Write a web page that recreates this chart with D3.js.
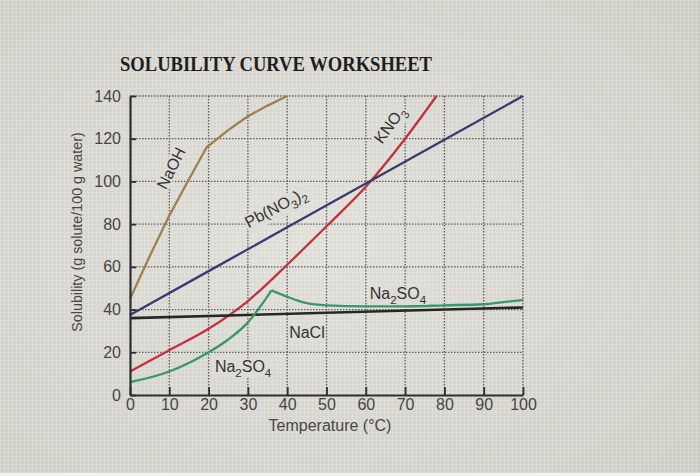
<!DOCTYPE html>
<html>
<head>
<meta charset="utf-8">
<script src="https://cdn.jsdelivr.net/npm/d3@7"></script>
<style>
  body { margin: 0; background: #d4d2cc; }
  svg { display: block; }
</style>
</head>
<body>
<div class="canva"></div>
<script>
// values (temperature in °C, solubility in g / 100 g water)
const naohTemp = [0, 5, 10, 15, 19.5, 25, 30, 35, 40];
const naohSol = [45, 65, 84, 101, 116, 124, 130.5, 135.5, 140];

const kno3Temp = [0, 10, 20, 30, 40, 50, 60, 70, 78];
const kno3Sol = [11, 21, 31, 44, 61, 79, 97.5, 120, 140];

const pbTemp = [0, 20, 40, 60, 80, 100];
const pbSol = [37.5, 58, 78.5, 99, 119.5, 140];

const naclTemp = [0, 50, 100];
const naclSol = [36, 38.5, 41];

const na2so4Temp = [0, 10, 20, 25, 30, 33, 36, 40, 45, 50, 60, 70, 80, 90, 95, 100];
const na2so4Sol = [6, 11, 20, 26, 34, 41, 49, 46, 43, 42, 41.5, 41.5, 42, 42.5, 43.5, 44.5];

const xTicks = [0, 10, 20, 30, 40, 50, 60, 70, 80, 90, 100];
const yTicks = [0, 20, 40, 60, 80, 100, 120, 140];

const width = 700, height = 476;
const margin = { top: 96, right: 177, bottom: 81, left: 130 };
const graphWidth = width - margin.left - margin.right;
const graphHeight = height - margin.top - margin.bottom;

const svg = d3.select(".canva").append("svg")
    .attr("width", width)
    .attr("height", height);

// photo-ish background
const defs = svg.append("defs");
const grad = defs.append("radialGradient")
    .attr("id", "bg")
    .attr("cx", "45%").attr("cy", "50%").attr("r", "70%");
grad.append("stop").attr("offset", "0%").attr("stop-color", "#dfded8");
grad.append("stop").attr("offset", "100%").attr("stop-color", "#cecdc6");

const pat = defs.append("pattern")
    .attr("id", "screen")
    .attr("width", 4).attr("height", 4)
    .attr("patternUnits", "userSpaceOnUse");
pat.append("rect").attr("width", 4).attr("height", 1).attr("fill", "#ffffff").attr("opacity", 0.18);
pat.append("rect").attr("width", 1).attr("height", 4).attr("fill", "#ffffff").attr("opacity", 0.18);

svg.append("rect").attr("width", width).attr("height", height).attr("fill", "url(#bg)");
svg.append("rect").attr("width", width).attr("height", height).attr("fill", "url(#screen)");
svg.append("rect").attr("y", 473).attr("width", width).attr("height", 3).attr("fill", "#f2f2f0");

const graph = svg.append("g")
    .attr("transform", `translate(${margin.left}, ${margin.top})`);

const x = d3.scaleLinear().domain([0, 100]).range([0, graphWidth]);
const y = d3.scaleLinear().domain([0, 140]).range([graphHeight, 0]);

// dotted grid
graph.append("g").selectAll("line")
    .data(xTicks.slice(1))
    .enter().append("line")
    .attr("x1", d => x(d)).attr("x2", d => x(d))
    .attr("y1", 0).attr("y2", graphHeight)
    .attr("stroke", "#5e5e5e")
    .attr("stroke-width", 1.3)
    .attr("stroke-dasharray", "1.5 1.5");

graph.append("g").selectAll("line")
    .data(yTicks.slice(1))
    .enter().append("line")
    .attr("x1", 0).attr("x2", graphWidth)
    .attr("y1", d => y(d)).attr("y2", d => y(d))
    .attr("stroke", "#5e5e5e")
    .attr("stroke-width", 1.3)
    .attr("stroke-dasharray", "1.5 1.5");

// curves
const zip = (t, v) => t.map((d, i) => ({ t: d, v: v[i] }));

const series = [
    { name: "NaOH", data: zip(naohTemp, naohSol), color: "#9b814f", curve: d3.curveLinear, width: 2.3 },
    { name: "KNO3", data: zip(kno3Temp, kno3Sol), color: "#c4303e", curve: d3.curveMonotoneX, width: 2.3 },
    { name: "Pb(NO3)2", data: zip(pbTemp, pbSol), color: "#3b3a72", curve: d3.curveLinear, width: 2.3 },
    { name: "NaCl", data: zip(naclTemp, naclSol), color: "#262626", curve: d3.curveLinear, width: 2.6 },
];

// Na2SO4 has a sharp peak, draw both sides separately
const naData = zip(na2so4Temp, na2so4Sol);
const peak = d3.maxIndex(naData, d => d.v);
series.push({ name: "Na2SO4 rise", data: naData.slice(0, peak + 1), color: "#3a9866", curve: d3.curveMonotoneX, width: 2.3 });
series.push({ name: "Na2SO4 fall", data: naData.slice(peak), color: "#3a9866", curve: d3.curveMonotoneX, width: 2.3 });

series.forEach(s => {
    const line = d3.line()
        .x(d => x(d.t))
        .y(d => y(d.v))
        .curve(s.curve);
    graph.append("path")
        .datum(s.data)
        .attr("fill", "none")
        .attr("stroke", s.color)
        .attr("stroke-width", s.width)
        .attr("stroke-linejoin", "round")
        .attr("d", line);
});

// axes with inward ticks
const xAxis = d3.axisBottom(x).tickValues(xTicks).tickSizeInner(-8).tickSizeOuter(0).tickPadding(4);
const yAxis = d3.axisLeft(y).tickValues(yTicks).tickSizeInner(-6).tickSizeOuter(0).tickPadding(9);

const xAxisGroup = graph.append("g")
    .attr("transform", `translate(0, ${graphHeight})`)
    .call(xAxis);
const yAxisGroup = graph.append("g").call(yAxis);

[xAxisGroup, yAxisGroup].forEach(g => {
    g.select(".domain").attr("stroke", "#2e2e2e").attr("stroke-width", 2.2);
    g.selectAll(".tick line").attr("stroke", "#2e2e2e").attr("stroke-width", 1.8);
    g.selectAll(".tick text")
        .attr("fill", "#454545")
        .style("font-family", "'Liberation Sans', Arial, sans-serif")
        .style("font-size", "16px");
});

// title and axis titles
svg.append("text")
    .attr("x", 120)
    .attr("y", 71)
    .attr("textLength", 312)
    .attr("lengthAdjust", "spacingAndGlyphs")
    .attr("fill", "#1e1e1e")
    .style("font-family", "'Liberation Serif', 'Times New Roman', serif")
    .style("font-weight", "bold")
    .style("font-size", "20px")
    .text("SOLUBILITY CURVE WORKSHEET");

svg.append("text")
    .attr("transform", "translate(82, 232) rotate(-90)")
    .attr("text-anchor", "middle")
    .attr("fill", "#474747")
    .style("font-family", "'Liberation Sans', Arial, sans-serif")
    .style("font-size", "14.3px")
    .text("Solubility (g solute/100 g water)");

svg.append("text")
    .attr("x", 330)
    .attr("y", 431)
    .attr("text-anchor", "middle")
    .attr("fill", "#474747")
    .style("font-family", "'Liberation Sans', Arial, sans-serif")
    .style("font-size", "16px")
    .text("Temperature (°C)");

// curve labels: parts are [text, isSubscript]
const labels = [
    { parts: [["NaOH", 0]], t: 11.7, v: 105, angle: -63, anchor: "middle" },
    { parts: [["KNO", 0], ["3", 1]], t: 67.2, v: 125, angle: -54, anchor: "middle" },
    { parts: [["Pb(NO", 0], ["3", 1], [")", 0], ["2", 1]], t: 37.7, v: 85.5, angle: -28, anchor: "middle" },
    { parts: [["Na", 0], ["2", 1], ["SO", 0], ["4", 1]], t: 61, v: 45, angle: 0, anchor: "start" },
    { parts: [["NaCl", 0]], t: 40.5, v: 26.5, angle: 0, anchor: "start" },
    { parts: [["Na", 0], ["2", 1], ["SO", 0], ["4", 1]], t: 21.6, v: 11, angle: 0, anchor: "start" },
];

labels.forEach(l => {
    const g = graph.append("g")
        .attr("transform", `translate(${x(l.t)}, ${y(l.v)}) rotate(${l.angle})`);
    const txt = g.append("text")
        .attr("text-anchor", l.anchor)
        .attr("fill", "#333")
        .style("font-family", "'Liberation Sans', Arial, sans-serif")
        .style("font-size", "16px");
    let sub = false;
    l.parts.forEach(([s, isSub]) => {
        const dy = isSub && !sub ? 5 : (!isSub && sub ? -5 : 0);
        txt.append("tspan")
            .attr("dy", dy)
            .style("font-size", isSub ? "11.5px" : "16px")
            .text(s);
        sub = !!isSub;
    });
    if (l.angle !== 0) txt.attr("dy", "0.35em");
    const bb = txt.node().getBBox();
    g.insert("rect", "text")
        .attr("x", bb.x - 1).attr("y", bb.y + 1)
        .attr("width", bb.width + 2).attr("height", bb.height - 2)
        .attr("fill", "#dddcd6");
});
</script>
</body>
</html>
